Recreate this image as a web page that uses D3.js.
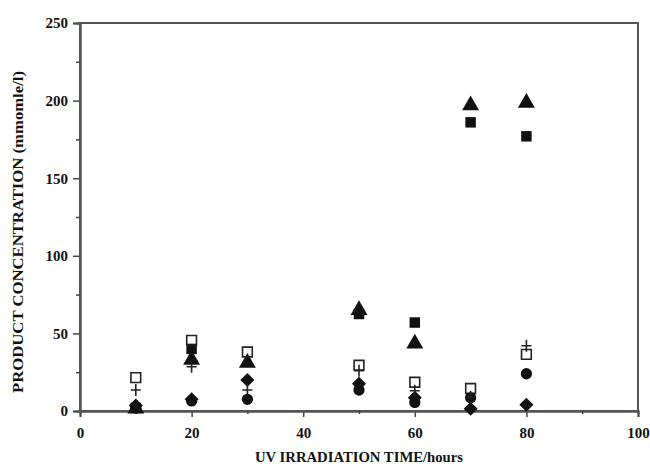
<!DOCTYPE html>
<html>
<head>
<meta charset="utf-8">
<script src="https://cdn.jsdelivr.net/npm/d3@7"></script>
<style>
  body { margin: 0; background: #fff; }
  text { font-family: "Liberation Serif", "DejaVu Serif", serif; font-weight: bold; fill: #111; }
</style>
</head>
<body>
<div id="chart"></div>
<script>
// Irradiation times (hours)
const times = [10, 20, 30, 50, 60, 70, 80];

// Product concentrations per series (null = not visible)
const openSquare   = [21.5, 45.5, 38, 29.5, 18.5, 14.5, 36.5];
const filledSquare = [2, 40, null, 62.5, 57, 186, 177];
const triangle     = [1.5, 33, 31, 65, 43.5, 197, 198.5];
const plus         = [13.5, 28.5, 13.5, 26, 13, 9, 42];
const diamond      = [3.5, 7.5, 20, 17.5, 8.5, 1.5, 4];
const circle       = [2, 6.5, 7.5, 13.5, 5.5, 8.5, 24];

const xTicks = [0, 20, 40, 60, 80, 100];
const yTicks = [0, 50, 100, 150, 200, 250];

const width = 650, height = 469;
const margin = { top: 23, right: 12, bottom: 58, left: 80 };

const svg = d3.select("#chart").append("svg")
  .attr("width", width)
  .attr("height", height);

const x = d3.scaleLinear().domain([0, 100]).range([margin.left, width - margin.right]);
const y = d3.scaleLinear().domain([0, 250]).range([height - margin.bottom, margin.top]);

// Frame
svg.append("rect")
  .attr("x", x(0)).attr("y", y(250))
  .attr("width", x(100) - x(0)).attr("height", y(0) - y(250))
  .attr("fill", "none").attr("stroke", "#555").attr("stroke-width", 2);

// Axes
svg.append("g")
  .attr("transform", `translate(0,${y(0)})`)
  .call(d3.axisBottom(x).tickValues(xTicks).tickSize(6).tickPadding(10));
svg.append("g")
  .attr("transform", `translate(0,${y(0)})`)
  .call(d3.axisBottom(x).tickValues([10, 30, 50, 70, 90]).tickSize(3).tickFormat(""));
svg.append("g")
  .attr("transform", `translate(${x(0)},0)`)
  .call(d3.axisLeft(y).tickValues(yTicks).tickSize(7).tickPadding(5));
svg.append("g")
  .attr("transform", `translate(${x(0)},0)`)
  .call(d3.axisLeft(y).tickValues([25, 75, 125, 175, 225]).tickSize(4).tickFormat(""));

svg.selectAll(".domain").attr("stroke", "#555").attr("stroke-width", 2);
svg.selectAll(".tick line").attr("stroke", "#444").attr("stroke-width", 1.5);
svg.selectAll(".tick text").style("font-size", "15px").style("font-family", "'Liberation Serif', serif").style("font-weight", "bold").attr("fill", "#111");

// Axis titles
svg.append("text")
  .attr("x", 359).attr("y", 462)
  .attr("text-anchor", "middle")
  .attr("textLength", 208).attr("lengthAdjust", "spacingAndGlyphs")
  .style("font-size", "14px")
  .text("UV IRRADIATION TIME/hours");

svg.append("text")
  .attr("transform", "translate(23,232) rotate(-90)")
  .attr("text-anchor", "middle")
  .attr("textLength", 322).attr("lengthAdjust", "spacingAndGlyphs")
  .style("font-size", "14px")
  .text("PRODUCT CONCENTRATION (mmomle/l)");

// Markers
const diamondPath = "M0,-7L7,0L0,7L-7,0Z";
const plusPath = "M-5,0H5M0,-6V6";
const series = [
  { values: filledSquare, path: d3.symbol().type(d3.symbolSquare).size(110)(), fill: "#111", stroke: "none" },
  { values: triangle, path: d3.symbol().type(d3.symbolTriangle).size(125)(), fill: "#111", stroke: "none" },
  { values: openSquare, path: d3.symbol().type(d3.symbolSquare).size(95)(), fill: "none", stroke: "#222" },
  { values: diamond, path: diamondPath, fill: "#111", stroke: "none" },
  { values: circle, path: d3.symbol().type(d3.symbolCircle).size(100)(), fill: "#111", stroke: "none" },
  { values: plus, path: plusPath, fill: "none", stroke: "#222" }
];

series.forEach(s => {
  const pts = times.map((t, i) => ({ t, v: s.values[i] })).filter(d => d.v != null);
  svg.append("g").selectAll("path").data(pts).enter().append("path")
    .attr("transform", d => `translate(${x(d.t)},${y(d.v)})`)
    .attr("d", s.path)
    .attr("fill", s.fill)
    .attr("stroke", s.stroke)
    .attr("stroke-width", 1.6);
});
</script>
</body>
</html>
